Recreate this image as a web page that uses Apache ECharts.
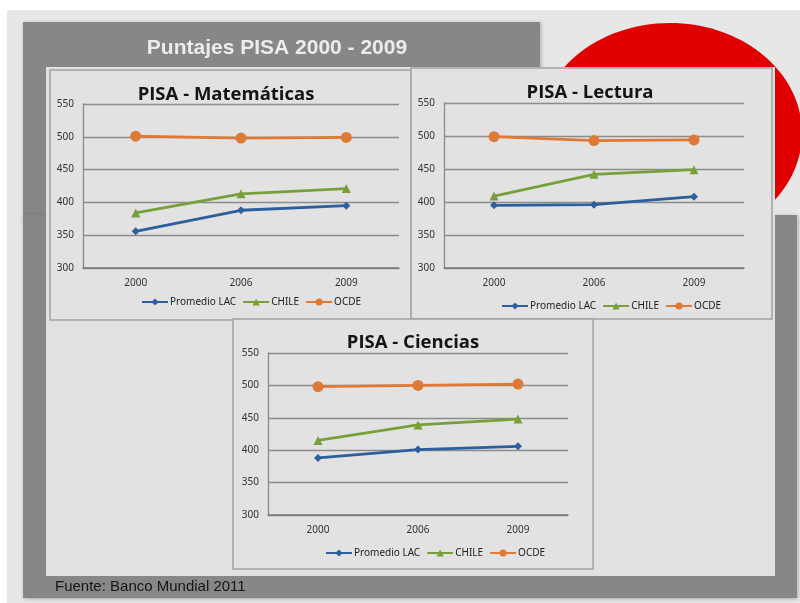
<!DOCTYPE html>
<html>
<head>
<meta charset="utf-8">
<script src="https://cdn.jsdelivr.net/npm/echarts@6/dist/echarts.min.js"></script>
<style>
html,body{margin:0;padding:0;background:#ffffff;}
#c{width:800px;height:603px;}
</style>
</head>
<body>
<div id="c"></div>
<script>
// ---- data ----
const years = ['2000', '2006', '2009'];
const seriesNames = ['Promedio LAC', 'CHILE', 'OCDE'];
const yTicks = [300, 350, 400, 450, 500, 550];

const matLAC = [356, 388, 395];
const matCHILE = [384, 413, 421];
const matOCDE = [501, 498, 499];

const lecLAC = [395, 396, 408];
const lecCHILE = [409, 442, 449];
const lecOCDE = [499, 493, 494];

const cieLAC = [388, 401, 406];
const cieCHILE = [415, 439, 448];
const cieOCDE = [498, 500, 502];

const chartTitles = ['PISA - Matemáticas', 'PISA - Lectura', 'PISA - Ciencias'];
const slideTitle = 'Puntajes PISA 2000 - 2009';
const sourceText = 'Fuente: Banco Mundial 2011';

// ---- styles / layout ----
const colors = ['#2d5e9e', '#78a03a', '#de7a35'];
const symbols = ['diamond', 'triangle', 'circle'];
const symbolSizes = [8, 9, 11];
const font = '"Noto Sans", "Open Sans", sans-serif';

const grids = [
  {left: 83, top: 104, width: 316, height: 164},
  {left: 444, top: 103, width: 300, height: 165},
  {left: 268, top: 353, width: 300, height: 162}
];
const legendPos = [
  {left: 136, top: 292},
  {left: 496, top: 296},
  {left: 320, top: 543}
];
const titlePos = [[226, 95], [590, 93], [413, 343]];
const boxes = [
  [50, 70, 361, 250],
  [411, 68, 361, 251],
  [233, 319, 360, 250]
];

const dataSets = [
  [matLAC, matCHILE, matOCDE],
  [lecLAC, lecCHILE, lecOCDE],
  [cieLAC, cieCHILE, cieOCDE]
];

const chart = echarts.init(document.getElementById('c'), null, {renderer: 'canvas'});

const xAxes = [], yAxes = [], series = [], legends = [];
grids.forEach((g, i) => {
  xAxes.push({
    type: 'category', gridIndex: i, data: years, boundaryGap: true,
    axisLine: {show: true, lineStyle: {color: '#7a7a7a', width: 1.5}},
    axisTick: {show: false},
    axisLabel: {color: '#333', fontSize: 10, fontFamily: font, margin: 10}
  });
  yAxes.push({
    type: 'value', gridIndex: i, min: yTicks[0], max: yTicks[yTicks.length - 1], interval: 50,
    axisLine: {show: true, lineStyle: {color: '#8a8a8a', width: 1.3}},
    axisTick: {show: false},
    axisLabel: {color: '#333', fontSize: 10, fontFamily: font, margin: 9},
    splitLine: {show: true, lineStyle: {color: '#8c8c8c', width: 1.3}}
  });
  dataSets[i].forEach((vals, k) => {
    series.push({
      type: 'line', name: seriesNames[k], xAxisIndex: i, yAxisIndex: i,
      data: vals, symbol: symbols[k], symbolSize: symbolSizes[k],
      lineStyle: {color: colors[k], width: 2.8},
      itemStyle: {color: colors[k]},
      z: 3 + k
    });
  });
  legends.push({
    left: legendPos[i].left, top: legendPos[i].top,
    data: seriesNames, itemWidth: 26, itemHeight: 9, itemGap: 6,
    textStyle: {fontSize: 10, fontFamily: font, color: '#222', padding: [0, 0, 0, -3]},
    selectedMode: false
  });
});

const graphics = [
  // slide background
  {type: 'rect', shape: {x: 7, y: 10, width: 800, height: 600}, style: {fill: '#e7e7e7'}, z: -100},
  // red circle
  {type: 'ellipse', shape: {cx: 670, cy: 133, rx: 132, ry: 110}, style: {fill: '#e10000'}, z: -95},
  // dark gray title block
  {type: 'rect', shape: {x: 23, y: 22, width: 517, height: 200},
    style: {fill: '#878787', shadowBlur: 4, shadowColor: 'rgba(0,0,0,0.25)', shadowOffsetX: 1, shadowOffsetY: 1}, z: -90},
  // dark gray body
  {type: 'rect', shape: {x: 23, y: 215, width: 774, height: 383},
    style: {fill: '#878787', shadowBlur: 4, shadowColor: 'rgba(0,0,0,0.25)', shadowOffsetX: 1, shadowOffsetY: 1}, z: -90},
  // inner light panel
  {type: 'rect', shape: {x: 46, y: 67, width: 729, height: 509}, style: {fill: '#e1e1e1'}, z: -80},
  // slide title
  {type: 'text', style: {text: slideTitle, x: 277, y: 48, textAlign: 'center', textVerticalAlign: 'middle',
    fill: '#ececec', font: 'bold 21px "Liberation Sans", Arial, sans-serif'}, z: -70},
  // source
  {type: 'text', style: {text: sourceText, x: 55, y: 587, textAlign: 'left', textVerticalAlign: 'middle',
    fill: '#151515', font: '15px "Liberation Sans", Arial, sans-serif'}, z: -70}
];
boxes.forEach((b, i) => {
  graphics.push({type: 'rect', shape: {x: b[0], y: b[1], width: b[2], height: b[3]},
    style: {fill: '#e2e2e2', stroke: '#a3a3a3', lineWidth: 1.5}, z: -60 + i});
  graphics.push({type: 'text', style: {text: chartTitles[i], x: titlePos[i][0], y: titlePos[i][1],
    textAlign: 'center', textVerticalAlign: 'middle', fill: '#141414',
    font: 'bold 18.5px "Open Sans", "Noto Sans", sans-serif'}, z: -50 + i});
});

chart.setOption({
  animation: false,
  backgroundColor: 'transparent',
  graphic: graphics,
  grid: grids.map(g => Object.assign({containLabel: false}, g)),
  xAxis: xAxes,
  yAxis: yAxes,
  legend: legends,
  series: series
});
</script>
</body>
</html>
